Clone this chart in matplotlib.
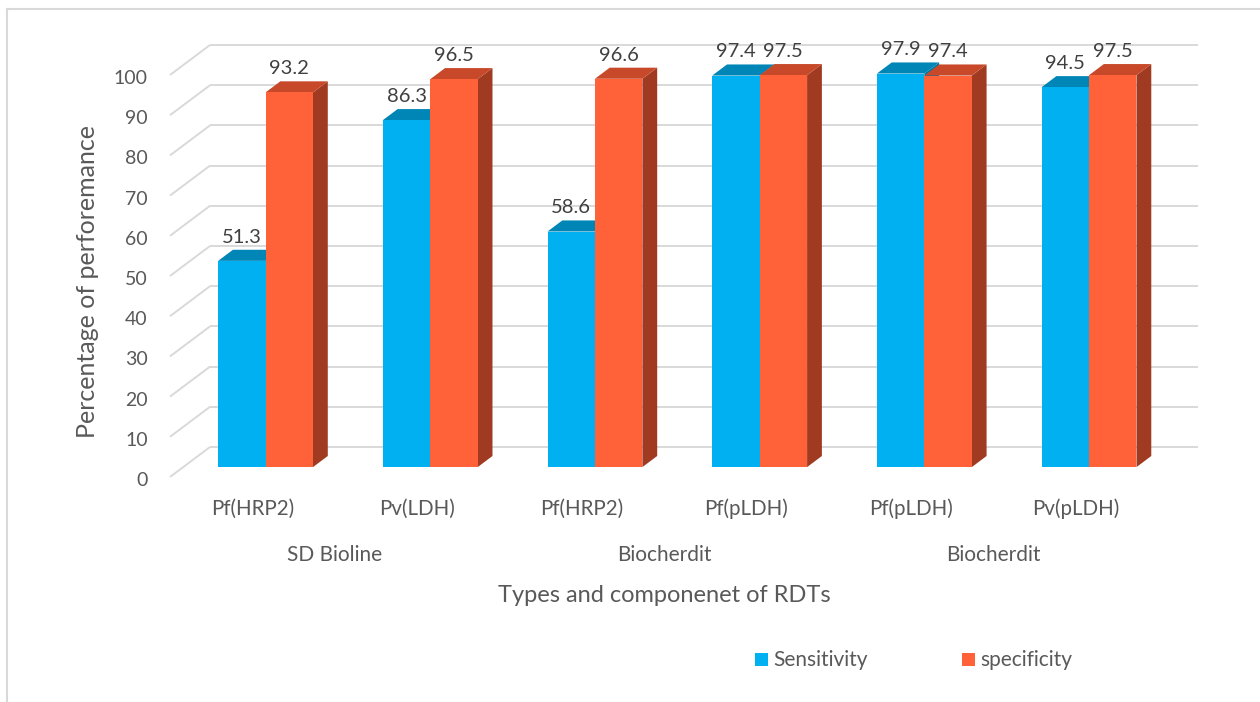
import matplotlib
matplotlib.use("Agg")
import matplotlib.pyplot as plt
from matplotlib.patches import Polygon, Rectangle
from matplotlib.lines import Line2D

# ---------------- data ----------------
categories = ["Pf(HRP2)", "Pv(LDH)", "Pf(HRP2)", "Pf(pLDH)", "Pf(pLDH)", "Pv(pLDH)"]
groups = ["SD Bioline", "Biocherdit", "Biocherdit"]
sensitivity = [51.3, 86.3, 58.6, 97.4, 97.9, 94.5]
specificity = [93.2, 96.5, 96.6, 97.5, 97.4, 97.5]
series_names = ["Sensitivity", "specificity"]
y_ticks = [0, 10, 20, 30, 40, 50, 60, 70, 80, 90, 100]
x_title = "Types and componenet of RDTs"
y_title = "Percentage of perforemance"

# ---------------- style ----------------
W, H = 1260, 702
FONT = "Lato"
plt.rcParams["font.family"] = [FONT, "DejaVu Sans"]
front_cols = ["#00B0F0", "#FF6138"]
top_cols = ["#0086B6", "#C8492A"]
side_cols = ["#0077A3", "#A03B22"]
grid_col = "#D9D9D9"
txt_col = "#595959"
lab_col = "#404040"

# pixel geometry of the plot (front plane)
PX_LEFT, PX_CAT = 170.0, 164.7       # left edge, width per category
PX_ZERO, PX_UNIT = 477.0, 4.02       # y pixel of value 0 (front), px per unit
DEPTH_PX = (40.0, -30.0)             # full depth offset in pixels
DX = DEPTH_PX[0] / PX_CAT            # depth offset in category units
DY = -DEPTH_PX[1] / PX_UNIT          # depth offset in value units
Z0, Z1 = 0.33, 0.70                  # bar depth range
BW = 0.288                           # bar width (category units)

fig = plt.figure(figsize=(W / 100, H / 100), dpi=100)
ax = fig.add_axes([0, 0, 1, 1])
ax.set_xlim((0 - PX_LEFT) / PX_CAT - 0.5, (W - PX_LEFT) / PX_CAT - 0.5)
ax.set_ylim((PX_ZERO - H) / PX_UNIT, PX_ZERO / PX_UNIT)
ax.axis("off")

def proj(x, y, z):
    return (x + z * DX, y + z * DY)

n = len(categories)
x0, x1 = -0.5, n - 0.5

# gridlines: back wall + left side wall
for v in y_ticks:
    bx0, by = proj(x0, v, 1.0)
    bx1, _ = proj(x1, v, 1.0)
    ax.plot([bx0, bx1], [by, by], color=grid_col, lw=1.4, zorder=1, solid_capstyle="butt")
    ax.plot([x0, bx0], [v, by], color=grid_col, lw=1.4, zorder=1, solid_capstyle="butt")

# bars
series = [sensitivity, specificity]
for s, vals in enumerate(series):
    lefts = [i + (s - 1) * BW for i in range(n)]
    fx = [proj(l, 0, Z0)[0] for l in lefts]
    ax.bar(fx, vals, width=BW, bottom=Z0 * DY, align="edge",
           color=front_cols[s], edgecolor="none", zorder=3 + s * 0.1)
    for l, v in zip(lefts, vals):
        top = [proj(l, v, Z0), proj(l + BW, v, Z0), proj(l + BW, v, Z1), proj(l, v, Z1)]
        side = [proj(l + BW, 0, Z0), proj(l + BW, v, Z0), proj(l + BW, v, Z1), proj(l + BW, 0, Z1)]
        ax.add_patch(Polygon(side, closed=True, facecolor=side_cols[s], edgecolor="none", zorder=2 + s * 0.1))
        ax.add_patch(Polygon(top, closed=True, facecolor=top_cols[s], edgecolor="none", zorder=2.05 + s * 0.1))
        cx, cy = proj(l + BW / 2, v, Z0)
        ax.annotate(f"{v:.1f}", xy=(cx, cy), xytext=(0, 13), textcoords="offset points",
                    ha="center", va="baseline", fontsize=14.5, color=lab_col, zorder=6)

# y tick labels
for v in y_ticks:
    ax.annotate(str(v), xy=(x0, v), xytext=(-16, -6.5), textcoords="offset points",
                ha="right", va="baseline", fontsize=14, color=txt_col)

# category labels
for i, c in enumerate(categories):
    ax.annotate(c, xy=(i, 0), xytext=(0, -27.4), textcoords="offset points",
                ha="center", va="baseline", fontsize=14.8, color=txt_col)

# group labels
for k, g in enumerate(groups):
    ax.annotate(g, xy=(2 * k + 0.5, 0), xytext=(0, -60.5), textcoords="offset points",
                ha="center", va="baseline", fontsize=15, color=txt_col)

# axis titles
ax.annotate(x_title, xy=((x0 + x1) / 2, 0), xytext=(0, -90), textcoords="offset points",
            ha="center", va="baseline", fontsize=17, color=txt_col)
fig.text(88 / W, 1 - 281 / H, y_title, rotation=90, ha="center", va="center",
         fontsize=18, color=txt_col)

# legend (manual)
leg = [(755, 773), (962, 980)]
for s, (sq, tx) in enumerate(leg):
    fig.patches.append(Rectangle((sq / W, 1 - 666 / H), 13 / W, 13 / H,
                                 transform=fig.transFigure, facecolor=front_cols[s],
                                 edgecolor="none"))
    fig.text(tx / W, 1 - 666 / H, series_names[s], ha="left", va="baseline",
             fontsize=15, color=txt_col)

# chart border (top and left)
fig.lines.append(Line2D([7 / W, 1.0], [1 - 9 / H, 1 - 9 / H], transform=fig.transFigure,
                        color=grid_col, lw=1.5))
fig.lines.append(Line2D([7 / W, 7 / W], [0, 1 - 9 / H], transform=fig.transFigure,
                        color=grid_col, lw=1.5))

fig.savefig("out.png", dpi=100, facecolor="white")
